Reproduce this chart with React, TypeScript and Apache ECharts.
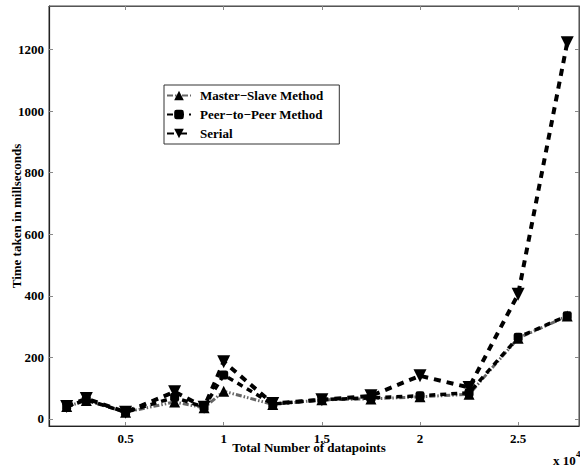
import React, { useEffect, useRef } from "react";
import * as echarts from "echarts";

const xValues = [0.2, 0.3, 0.5, 0.75, 0.9, 1.0, 1.25, 1.5, 1.75, 2.0, 2.25, 2.5, 2.75];
const masterSlave = [40, 60, 22, 55, 36, 90, 47, 62, 65, 72, 80, 262, 334];
const peerToPeer = [40, 62, 22, 70, 38, 143, 48, 63, 68, 75, 85, 265, 335];
const serial = [40, 66, 22, 88, 38, 186, 50, 62, 75, 140, 102, 405, 1222];
const xTicks = [0.5, 1, 1.5, 2, 2.5];
const yTicks = [0, 200, 400, 600, 800, 1000, 1200];

const FONT = "Liberation Serif, serif";

export default function App() {
  const ref = useRef<HTMLDivElement>(null);
  useEffect(() => {
    if (!ref.current) return;
    const chart = echarts.init(ref.current, null, { renderer: "svg" });
    const pair = (ys: number[]) => xValues.map((x, i) => [x, ys[i]]);
    const labelStyle = { fontFamily: FONT, fontWeight: "bold" as const, fontSize: 13, color: "#000" };
    const xRange = { min: 0.11, max: 2.81 };
    const yRange = { min: -23, max: 1341 };
    chart.setOption({
      animation: false,
      backgroundColor: "#fff",
      grid: {
        left: 49, top: 6, right: 1, bottom: 43,
        outerBoundsMode: "none",
        containLabel: false,
        show: true, borderColor: "#444", borderWidth: 1, backgroundColor: "transparent",
      },
      legend: {
        orient: "vertical",
        left: 164,
        top: 85,
        padding: [4, 16, 4, 2],
        itemWidth: 24,
        itemHeight: 12,
        itemGap: 6,
        borderColor: "#333",
        borderWidth: 1,
        backgroundColor: "#fff",
        textStyle: { ...labelStyle, padding: [0, 0, 0, 4] },
        data: ["Master\u2212Slave Method", "Peer\u2212to\u2212Peer Method", "Serial"],
      },
      xAxis: [
        {
          type: "value",
          ...xRange,
          axisLine: { show: true, onZero: false, lineStyle: { color: "#222", width: 1.2 } },
          axisTick: { show: true, inside: true, length: 4, customValues: xTicks, lineStyle: { color: "#888" } },
          axisLabel: { ...labelStyle, margin: 6, customValues: xTicks, formatter: (v: number) => String(v) },
          splitLine: { show: false },
          name: "Total Number of datapoints",
          nameLocation: "middle",
          nameGap: 15,
          nameMoveOverlap: false,
          nameTextStyle: { ...labelStyle, padding: [0, 10, 0, 0] },
        },
        {
          type: "value",
          position: "top",
          ...xRange,
          axisLine: { show: true, onZero: false, lineStyle: { color: "#555", width: 1 } },
          axisTick: { show: true, inside: true, length: 4, customValues: xTicks, lineStyle: { color: "#888" } },
          axisLabel: { show: false },
          splitLine: { show: false },
        },
      ],
      yAxis: [
        {
          type: "value",
          ...yRange,
          axisLine: { show: true, onZero: false, lineStyle: { color: "#222", width: 1.2 } },
          axisTick: { show: true, inside: true, length: 4, customValues: yTicks, lineStyle: { color: "#888" } },
          axisLabel: { ...labelStyle, margin: 5, customValues: yTicks, formatter: (v: number) => String(v) },
          splitLine: { show: false },
          name: "Time taken in millseconds",
          nameLocation: "middle",
          nameGap: 26,
          nameMoveOverlap: false,
          nameTextStyle: labelStyle,
        },
        {
          type: "value",
          position: "right",
          ...yRange,
          axisLine: { show: true, onZero: false, lineStyle: { color: "#555", width: 1 } },
          axisTick: { show: true, inside: true, length: 4, customValues: yTicks, lineStyle: { color: "#888" } },
          axisLabel: { show: false },
          splitLine: { show: false },
        },
      ],
      series: [
        {
          name: "Master\u2212Slave Method",
          type: "line",
          data: pair(masterSlave),
          symbol: "triangle",
          symbolSize: 11,
          itemStyle: { color: "#000" },
          lineStyle: { color: "#666", width: 3, type: [6, 2, 1.5, 2, 1.5, 2] },
          z: 2,
        },
        {
          name: "Peer\u2212to\u2212Peer Method",
          type: "line",
          data: pair(peerToPeer),
          symbol: "roundRect",
          symbolSize: 9,
          itemStyle: { color: "#000" },
          lineStyle: { color: "#000", width: 3.5, type: [6, 5] },
          z: 3,
        },
        {
          name: "Serial",
          type: "line",
          data: pair(serial),
          symbol: "triangle",
          symbolRotate: 180,
          symbolSize: 13,
          itemStyle: { color: "#000" },
          lineStyle: { color: "#000", width: 4, type: [7, 6] },
          z: 4,
        },
      ],
      graphic: [
        {
          type: "text",
          x: 553,
          y: 460,
          style: { text: "x 10", fontFamily: FONT, fontWeight: "bold", fontSize: 13, fill: "#000", verticalAlign: "middle", align: "left" },
        },
        {
          type: "text",
          x: 576,
          y: 454,
          style: { text: "4", fontFamily: FONT, fontWeight: "bold", fontSize: 9, fill: "#000", verticalAlign: "middle", align: "left" },
        },
      ],
    });
    return () => chart.dispose();
  }, []);
  return <div ref={ref} style={{ width: 580, height: 469, position: "absolute", left: 0, top: 0 }} />;
}
